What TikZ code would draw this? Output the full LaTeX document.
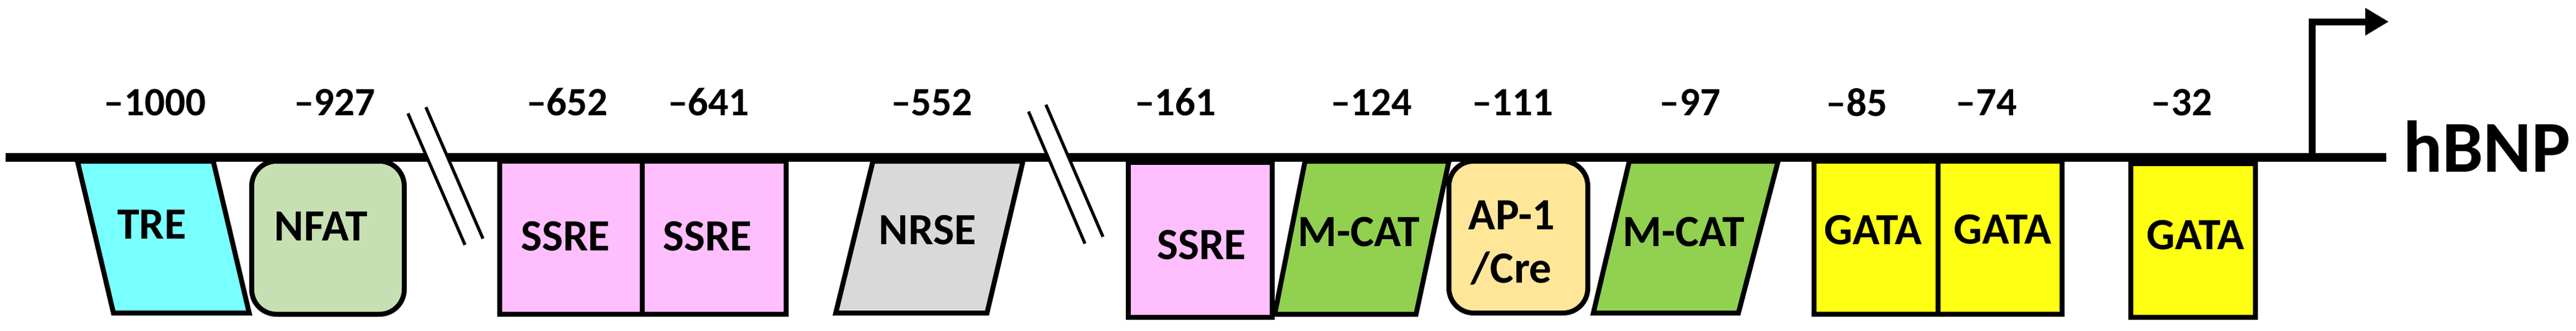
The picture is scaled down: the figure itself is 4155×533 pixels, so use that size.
\documentclass[tikz,border=0pt]{standalone}
\usepackage{fontspec}
\setmainfont{Carlito}
\usetikzlibrary{arrows.meta}
\definecolor{treC}{RGB}{120,255,255}
\definecolor{nfatC}{RGB}{198,224,180}
\definecolor{ssreC}{RGB}{255,191,255}
\definecolor{nrseC}{RGB}{217,217,217}
\definecolor{mcatC}{RGB}{146,208,80}
\definecolor{apC}{RGB}{255,230,153}
\definecolor{gataC}{RGB}{255,255,20}
\begin{document}
\begin{tikzpicture}[x=1pt,y=-1pt,
  elem/.style={draw=black,line width=8pt,line join=miter},
  lbl/.style={font=\bfseries\fontsize{72}{86}\selectfont,inner sep=0pt,align=center},
  posn/.style={font=\bfseries\fontsize{65}{70}\selectfont,inner sep=0pt},
  brk/.style={line width=5pt},
  dna/.style={line width=14pt},
  promo/.style={line width=11pt,line join=miter,-{Triangle[length=38pt,width=42pt]}},
]
\useasboundingbox (0,0) rectangle (4155,533);
% elements
\filldraw[elem,fill=treC] (125,260) -- (344,260) -- (402,505) -- (183,505) -- cycle;
\node[lbl] (tre) at (245,362) {TRE};
\filldraw[elem,fill=nfatC,rounded corners=40pt] (406,260) rectangle (652,507);
\node[lbl] (nfat) at (518,365) {NFAT};
\filldraw[elem,fill=ssreC] (806,260) rectangle (1036,507);
\node[lbl] (ssre1) at (912,381) {SSRE};
\filldraw[elem,fill=ssreC] (1036,260) rectangle (1268,507);
\node[lbl] (ssre2) at (1141,381) {SSRE};
\filldraw[elem,fill=nrseC] (1408,260) -- (1650,260) -- (1592,505) -- (1348,505) -- cycle;
\node[lbl] (nrse) at (1496,371) {NRSE};
\filldraw[elem,fill=ssreC] (1820,262) rectangle (2052,512);
\node[lbl] (ssre3) at (1938,395) {SSRE};
\filldraw[elem,fill=mcatC] (2105,260) -- (2337,260) -- (2284,507) -- (2056,507) -- cycle;
\node[lbl] (mcat1) at (2192,374) {M-CAT};
\filldraw[elem,fill=apC,rounded corners=40pt] (2337,260) rectangle (2561,505);
\node[lbl] (ap1) at (2438,392) {AP-1\\/Cre};
\filldraw[elem,fill=mcatC] (2628,260) -- (2868,260) -- (2804,505) -- (2570,505) -- cycle;
\node[lbl] (mcat2) at (2716,374) {M-CAT};
\filldraw[elem,fill=gataC] (2926,260) rectangle (3126,507);
\node[lbl] (gata1) at (3021,371) {GATA};
\filldraw[elem,fill=gataC] (3126,260) rectangle (3326,507);
\node[lbl] (gata2) at (3230,370) {GATA};
\filldraw[elem,fill=gataC] (3437,264) rectangle (3638,512);
\node[lbl] (gata3) at (3541,379) {GATA};
% DNA line
\coordinate (dnaL) at (9,254);
\coordinate (dnaR) at (3849,254);
\draw[dna] (dnaL) -- (dnaR);
% break marks
\fill[white] (658,183) -- (750,395) -- (779,385) -- (687,173) -- cycle;
\draw[brk] (658,183) -- (750,395);
\draw[brk] (687,173) -- (779,385);
\fill[white] (1659,180) -- (1750,393) -- (1779,382) -- (1687,169) -- cycle;
\draw[brk] (1659,180) -- (1750,393);
\draw[brk] (1687,169) -- (1779,382);
% positions
\node[posn] (p1000) at (250,165) {–1000};
\node[posn] (p927) at (540,165) {–927};
\node[posn] (p652) at (915,165) {–652};
\node[posn] (p641) at (1143,165) {–641};
\node[posn] (p552) at (1503,165) {–552};
\node[posn] (p161) at (1896,165) {–161};
\node[posn] (p124) at (2212,165) {–124};
\node[posn] (p111) at (2440,165) {–111};
\node[posn] (p97) at (2726,165) {–97};
\node[posn] (p85) at (2995,165) {–85};
\node[posn] (p74) at (3204,165) {–74};
\node[posn] (p32) at (3519,165) {–32};
% promoter arrow
\coordinate (tss) at (3729,256);
\coordinate (tssTip) at (3853,35);
\draw[promo] (tss) |- (tssTip);
\node[font=\bfseries\fontsize{118}{120}\selectfont,anchor=base west,inner sep=0pt] (gene) at (3876,277) {hBNP};
\end{tikzpicture}
\end{document}
